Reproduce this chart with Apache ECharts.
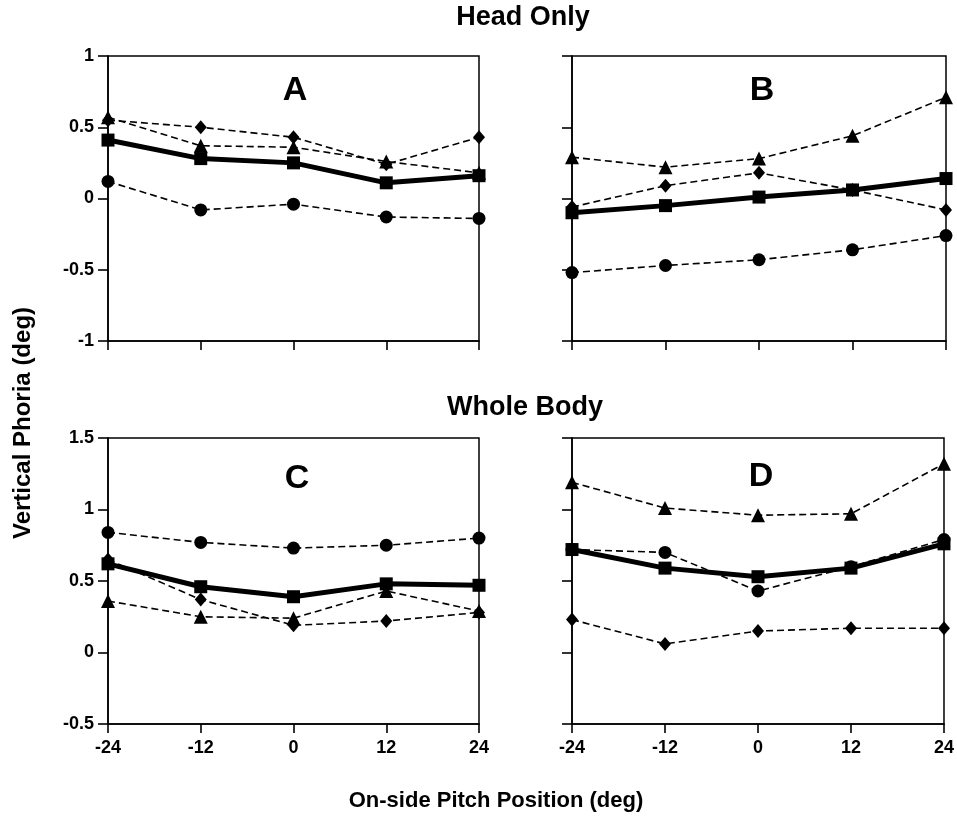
<!DOCTYPE html>
<html><head><meta charset="utf-8">
<script src="https://cdn.jsdelivr.net/npm/echarts@6/dist/echarts.min.js"></script>
<style>html,body{margin:0;padding:0;background:#fff}#c{width:957px;height:821px}</style>
</head><body><div id="c"></div>
<script>
const pitch = [-24, -12, 0, 12, 24];
const panelLetters = ['A', 'B', 'C', 'D'];
// Panel A (Head Only)
const A_circle   = [0.12, -0.08, -0.04, -0.13, -0.14];
const A_triangle = [0.57, 0.37, 0.36, 0.26, 0.18];
const A_diamond  = [0.55, 0.50, 0.43, 0.24, 0.43];
const A_square   = [0.41, 0.28, 0.25, 0.11, 0.16];
// Panel B (Head Only)
const B_circle   = [-0.52, -0.47, -0.43, -0.36, -0.26];
const B_triangle = [0.29, 0.22, 0.28, 0.44, 0.71];
const B_diamond  = [-0.06, 0.09, 0.18, 0.06, -0.08];
const B_square   = [-0.10, -0.05, 0.01, 0.06, 0.14];
// Panel C (Whole Body)
const C_circle   = [0.84, 0.77, 0.73, 0.75, 0.80];
const C_triangle = [0.36, 0.25, 0.24, 0.43, 0.29];
const C_diamond  = [0.65, 0.37, 0.19, 0.22, 0.28];
const C_square   = [0.62, 0.46, 0.39, 0.48, 0.47];
// Panel D (Whole Body)
const D_circle   = [0.72, 0.70, 0.43, 0.60, 0.79];
const D_triangle = [1.19, 1.01, 0.96, 0.97, 1.32];
const D_diamond  = [0.23, 0.06, 0.15, 0.17, 0.17];
const D_square   = [0.72, 0.59, 0.53, 0.59, 0.76];

const topRange = {min: -1, max: 1, interval: 0.5};
const botRange = {min: -0.5, max: 1.5, interval: 0.5};

const FONT = '"Liberation Sans", Arial, Helvetica, sans-serif';
const panels = [
  {c: A_circle, t: A_triangle, d: A_diamond, s: A_square},
  {c: B_circle, t: B_triangle, d: B_diamond, s: B_square},
  {c: C_circle, t: C_triangle, d: C_diamond, s: C_square},
  {c: D_circle, t: D_triangle, d: D_diamond, s: D_square}
];
const grids = [
  {left: 108, top: 56, width: 371, height: 285},
  {left: 572, top: 56, width: 374, height: 285},
  {left: 108, top: 438, width: 371, height: 286},
  {left: 572, top: 438, width: 374, height: 286}
];
const pair = arr => pitch.map((x, i) => [x, arr[i]]);

const xAxis = [], yAxis = [], series = [];
grids.forEach((g, i) => {
  g.show = true; g.borderColor = '#000'; g.borderWidth = 1.5; g.containLabel = false;
  xAxis.push({
    type: 'value', gridIndex: i, min: -24, max: 24, interval: 12,
    axisLine: {show: true, onZero: false, lineStyle: {color: '#000', width: 1.6}},
    axisTick: {show: true, length: 9, inside: false, lineStyle: {color: '#000', width: 1.6}},
    splitLine: {show: false},
    axisLabel: {show: i >= 2, color: '#000', fontFamily: FONT, fontWeight: 'bold', fontSize: 18, margin: 15}
  });
  const r = i < 2 ? topRange : botRange;
  yAxis.push({
    type: 'value', gridIndex: i, min: r.min, max: r.max, interval: r.interval,
    axisLine: {show: true, onZero: false, lineStyle: {color: '#000', width: 1.6}},
    axisTick: {show: true, length: 10, inside: false, lineStyle: {color: '#000', width: 1.6}},
    splitLine: {show: false},
    axisLabel: {show: i % 2 === 0, color: '#000', fontFamily: FONT, fontWeight: 'bold', fontSize: 18, margin: 14}
  });
  const p = panels[i];
  const dashed = {color: '#000', width: 1.6, type: [7, 4]};
  const base = {type: 'line', xAxisIndex: i, yAxisIndex: i, silent: true, animation: false,
    itemStyle: {color: '#000', borderWidth: 0}};
  series.push(Object.assign({}, base, {name: 'circle' + i, data: pair(p.c), symbol: 'circle', symbolSize: 13, lineStyle: dashed}));
  series.push(Object.assign({}, base, {name: 'tri' + i, data: pair(p.t), symbol: 'triangle', symbolSize: 14, lineStyle: dashed}));
  series.push(Object.assign({}, base, {name: 'dia' + i, data: pair(p.d), symbol: 'diamond', symbolSize: [12, 14], lineStyle: dashed}));
  series.push(Object.assign({}, base, {name: 'sq' + i, data: pair(p.s), symbol: 'rect', symbolSize: 13, z: 5,
    lineStyle: {color: '#000', width: 5, type: 'solid'}}));
});

function txt(text, x, y, size, rot) {
  return {type: 'text', x: x, y: y, rotation: rot || 0, silent: true,
    style: {text: text, fill: '#000', font: 'bold ' + size + 'px ' + FONT, textAlign: 'center', textVerticalAlign: 'middle'}};
}
const letterPos = [[295, 91], [762, 91], [297, 479], [761, 477]];
const graphic = [
  txt('Head Only', 523, 18, 27),
  txt('Whole Body', 525, 408, 27),
  txt('On-side Pitch Position (deg)', 496, 801, 22),
  txt('Vertical Phoria (deg)', 23, 423, 24, Math.PI / 2)
];
panelLetters.forEach((L, i) => graphic.push(txt(L, letterPos[i][0], letterPos[i][1], 34)));

const chart = echarts.init(document.getElementById('c'), null, {renderer: 'canvas'});
chart.setOption({
  backgroundColor: '#fff',
  animation: false,
  grid: grids, xAxis: xAxis, yAxis: yAxis, series: series,
  graphic: graphic
});
</script></body></html>
